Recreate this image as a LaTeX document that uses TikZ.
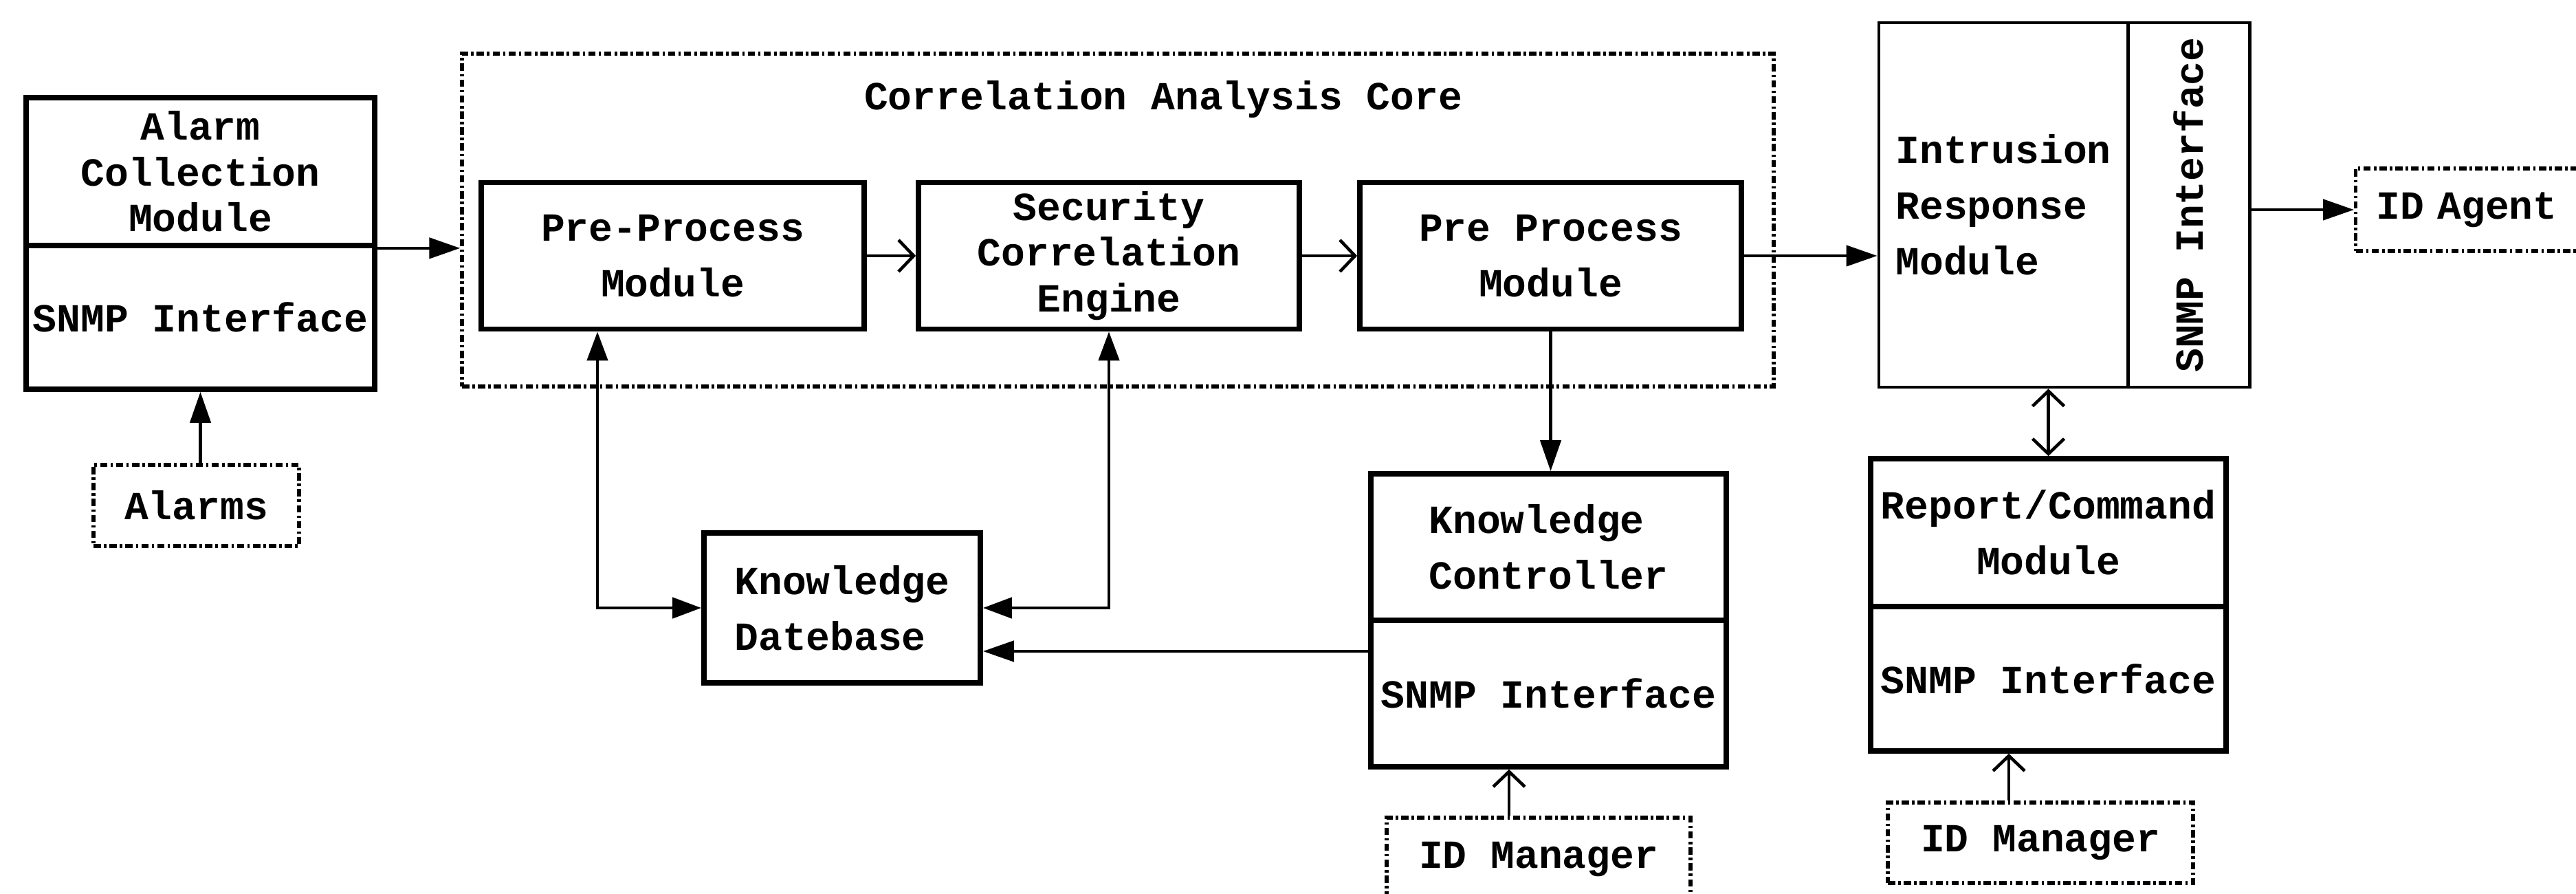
\documentclass[tikz,border=0pt]{standalone}
\usepackage{fontspec}
\setmonofont{Liberation Mono}
\usetikzlibrary{arrows.meta}

\begin{document}
\begin{tikzpicture}[line width=1.3pt, font=\ttfamily\bfseries\fontsize{16.5}{19}\selectfont]
  \tikzstyle{module}=[rectangle, draw, line width=2.2pt, inner sep=0pt, align=center]
  \tikzstyle{lighter}=[line width=1.4pt]
  \tikzstyle{ext}=[rectangle, draw, line width=1.5pt, inner sep=0pt, dash pattern=on 3pt off 1.3pt on 1pt off 1.3pt]
  \tikzstyle{spaced}=[font=\ttfamily\bfseries\fontsize{16.5}{23}\selectfont]
  \tikzstyle{tri}=[-{Triangle[length=4.5mm, width=3mm]}]
  \tikzstyle{tris}=[{Triangle[length=4.2mm, width=3mm]}-{Triangle[length=4.2mm, width=3mm]}]
  \tikzstyle{barb}=[-{Straight Barb[length=2.2mm, width=4.6mm]}]
  \tikzstyle{barbs}=[{Straight Barb[length=2.2mm, width=4.6mm]}-{Straight Barb[length=2.2mm, width=4.6mm]}]

  \useasboundingbox (0, 0) rectangle (37.47, 12.99);

  \node[module, minimum width=5.07cm, minimum height=2.15cm] (0) at (2.915, 10.495) {Alarm\\Collection\\Module};
  \node[module, minimum width=5.07cm, minimum height=2.09cm] (1) at (2.915, 8.375) {SNMP Interface};
  \node[ext, minimum width=2.99cm, minimum height=1.18cm] (2) at (2.855, 5.64) {Alarms};

  \node[ext, minimum width=19.08cm, minimum height=4.84cm] (3) at (16.26, 9.79) {};
  \node (4) at (16.92, 11.54) {Correlation Analysis Core};
  \node[module, spaced, minimum width=5.57cm, minimum height=2.13cm] (5) at (9.785, 9.27) {Pre-Process\\Module};
  \node[module, minimum width=5.54cm, minimum height=2.13cm] (6) at (16.13, 9.27) {Security\\Correlation\\Engine};
  \node[module, spaced, minimum width=5.55cm, minimum height=2.13cm] (7) at (22.555, 9.27) {Pre Process\\Module};

  \node[module, lighter, spaced, align=left, minimum width=3.62cm, minimum height=5.30cm] (8) at (29.14, 10.01) {Intrusion\\Response\\Module};
  \node[module, lighter, rotate=90, minimum width=5.30cm, minimum height=1.77cm] (9) at (31.835, 10.01) {SNMP Interface};
  \node[ext, anchor=west, text width=3.2cm, inner xsep=0.3cm, align=left, minimum height=1.2cm] (10) at (34.24, 9.94) {ID Agent};

  \node[module, spaced, align=left, minimum width=4.02cm, minimum height=2.18cm] (11) at (12.25, 4.15) {Knowledge\\Datebase};
  \node[module, spaced, align=left, minimum width=5.17cm, minimum height=2.13cm] (12) at (22.525, 5.035) {Knowledge\\Controller};
  \node[module, minimum width=5.17cm, minimum height=2.13cm] (13) at (22.525, 2.905) {SNMP Interface};
  \node[ext, minimum width=4.42cm, minimum height=1.22cm] (14) at (22.38, 0.49) {ID Manager};

  \node[module, spaced, minimum width=5.17cm, minimum height=2.15cm] (15) at (29.795, 5.245) {Report/Command\\Module};
  \node[module, minimum width=5.17cm, minimum height=2.10cm] (16) at (29.795, 3.12) {SNMP Interface};
  \node[ext, minimum width=4.44cm, minimum height=1.17cm] (17) at (29.68, 0.735) {ID Manager};

  \draw[tri] (1.south |- 2.north) -- (1.south);
  \draw[tri] (0.south east) -- (0.south east -| 3.west);
  \draw[barb] (5) -- (6);
  \draw[barb] (6) -- (7);
  \draw[tri] (7.east) -- (7.east -| 8.west);
  \draw[tri] (10.west -| 9.south) -- (10.west);
  \draw[tri] (7.south) -- (7.south |- 12.north);
  \draw[tris] ([xshift=-10.95mm]5.south) |- (11.west);
  \draw[tris] (6.south) |- (11.east);
  \draw[tri] ([yshift=-6.3mm]11.east -| 13.west) -- ([yshift=-6.3mm]11.east);
  \draw[barb] ([xshift=-4.3mm]14.north) -- ([xshift=-4.3mm]14.north |- 13.south);
  \draw[barbs] (15.north) -- (15.north |- 8.south);
  \draw[barb] ([xshift=-4.6mm]17.north) -- ([xshift=-4.6mm]17.north |- 16.south);
\end{tikzpicture}
\end{document}
